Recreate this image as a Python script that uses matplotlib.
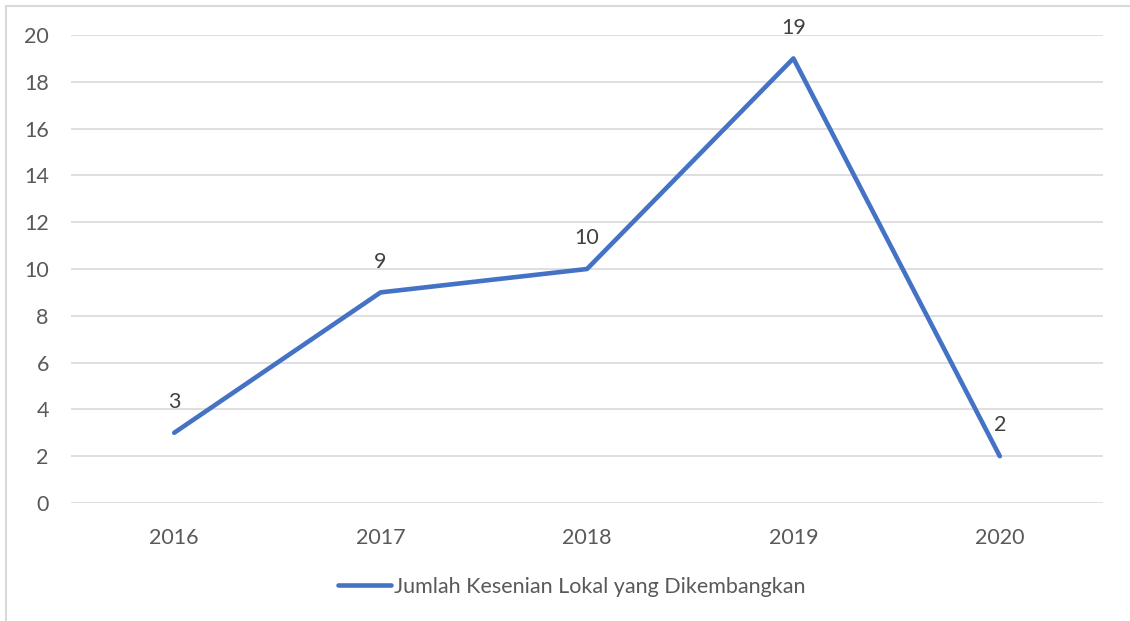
import matplotlib.pyplot as plt
import matplotlib.patches as patches
import numpy as np

years = ['2016', '2017', '2018', '2019', '2020']
jumlah = [3, 9, 10, 19, 2]
series_name = 'Jumlah Kesenian Lokal yang Dikembangkan'

plt.rcParams['font.family'] = ['Lato', 'DejaVu Sans']
txt_color = '#595959'
line_color = '#4472C4'
fs = 15.5

fig = plt.figure(figsize=(11.3, 6.21), dpi=100)
ax = fig.add_axes([71/1130, 118/621, 1032/1130, 468/621])

x = np.arange(len(years))
ax.plot(x, jumlah, color=line_color, lw=3.3, solid_capstyle='round',
        solid_joinstyle='round', label=series_name, zorder=3)

# value labels above each point
for xi, v in zip(x, jumlah):
    ax.annotate(str(v), (xi, v), xytext=(0, 15), textcoords='offset points',
                ha='center', va='bottom', fontsize=fs, color='#404040')

ax.set_xlim(-0.5, len(years) - 0.5)
ax.set_ylim(0, 20)
ax.set_yticks(np.arange(0, 21, 2))
ax.set_xticks(x)
ax.set_xticklabels(years)
ax.tick_params(axis='both', length=0, labelsize=fs, labelcolor=txt_color)
ax.tick_params(axis='y', pad=16)
ax.tick_params(axis='x', pad=18)
ax.grid(axis='y', color='#D9D9D9', lw=1.2)
ax.set_axisbelow(True)
for s in ax.spines.values():
    s.set_visible(False)

leg = fig.legend(loc='center', bbox_to_anchor=(572/1130, 1 - 587/621),
                 frameon=False, fontsize=fs, handlelength=2.45,
                 handletextpad=0.15)
for t in leg.get_texts():
    t.set_color(txt_color)

# chart border (only left and top edges fall inside the image)
fig.patches.append(patches.Rectangle((6/1130, -0.05), 1.2, 1 - 6/621 + 0.05,
                                     transform=fig.transFigure, fill=False,
                                     edgecolor='#D9D9D9', lw=1.5))

fig.savefig('out.png', dpi=100)
